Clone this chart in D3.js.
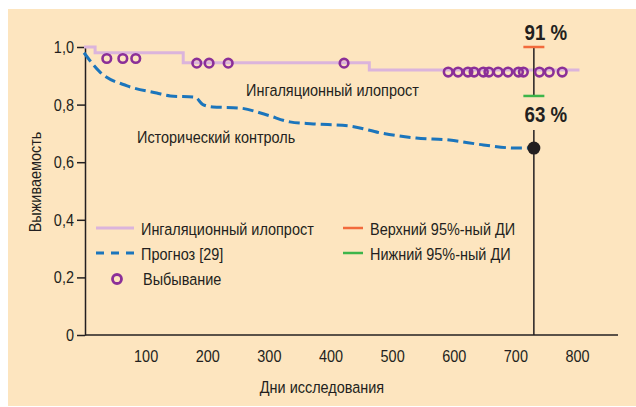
<!DOCTYPE html>
<meta charset="utf-8">
<style>
body { margin: 0; background: #fff; }
svg text {
  font-family: "Liberation Sans", Arial, sans-serif;
  fill: #231f20;
}
</style>
<svg width="636" height="407"></svg>
<script src="https://cdn.jsdelivr.net/npm/d3@7"></script>
<script>
// ilioprost Kaplan-Meier steps
var kmDays = [0, 18, 161, 463, 804];
var kmSurv = [1.0, 0.98, 0.945, 0.92, 0.92];

// drop-outs (censored)
var censDays = [37, 63, 84, 183, 203, 234, 422, 591, 607, 623, 633, 648, 657, 672, 688, 705, 713, 739, 755, 776];
var censSurv = [0.96, 0.96, 0.96, 0.944, 0.944, 0.944, 0.944, 0.913, 0.913, 0.913, 0.913, 0.913, 0.913, 0.913, 0.913, 0.913, 0.913, 0.913, 0.913, 0.913];

// historical control (prognosis)
var histDays = [0, 26, 70, 118, 140, 180, 193, 209, 253, 297, 334, 372, 430, 485, 539, 593, 648, 701, 730];
var histSurv = [0.98, 0.913, 0.865, 0.84, 0.83, 0.826, 0.80, 0.792, 0.788, 0.764, 0.74, 0.733, 0.726, 0.70, 0.684, 0.677, 0.66, 0.649, 0.649];

var ciDay = 730, ciUpper = 1.0, ciLower = 0.83, ciLabels = ["91 %", "63 %"];
var xTicks = [100, 200, 300, 400, 500, 600, 700, 800];
var yTicks = [0, 0.2, 0.4, 0.6, 0.8, 1.0];

var SX = 0.85; // squeeze, the original type is condensed

var svg = d3.select("svg");
svg.append("rect").attr("x", 8).attr("y", 9).attr("width", 628).attr("height", 397).attr("fill", "#fde5bf");

var x = d3.scaleLinear().domain([0, 800]).range([84, 577]),
    y = d3.scaleLinear().domain([0, 1]).range([335, 47]);

function label(px, py, str, size, extra) {
  return svg.append("text")
      .attr("transform", "translate(" + px + "," + py + ")" + (extra || "") + " scale(" + SX + ",1)")
      .attr("dy", "0.35em").attr("font-size", size || 17).text(str);
}

// x axis
svg.append("line").attr("x1", 85).attr("x2", 618).attr("y1", y(0)).attr("y2", y(0))
    .attr("stroke", "#231f20").attr("stroke-width", 1.5);
var gx = svg.append("g").attr("transform", "translate(0," + y(0) + ")")
    .call(d3.axisBottom(x).tickValues(xTicks).tickSize(0).tickPadding(15).tickFormat(d3.format("d")));
gx.select(".domain").remove();
gx.selectAll("text").attr("font-size", 17).style("font-family", null).attr("transform", "scale(" + SX + ",1)");

// y axis
var gy = svg.append("g").attr("transform", "translate(85,0)")
    .call(d3.axisLeft(y).tickValues(yTicks).tickSize(8).tickSizeOuter(0).tickPadding(5)
      .tickFormat(function(d) { return d === 0 ? "0" : d3.format(".1f")(d).replace(".", ","); }));
gy.select(".domain").attr("stroke", "#231f20").attr("stroke-width", 1.5);
gy.selectAll("line").attr("stroke", "#231f20").attr("stroke-width", 1.5);
gy.selectAll("text").attr("font-size", 17).style("font-family", null).attr("transform", "scale(" + SX + ",1)");

label(35, 182, "Выживаемость", 17, " rotate(-90)").attr("text-anchor", "middle");
label(322, 387, "Дни исследования").attr("text-anchor", "middle");

// historical control curve
svg.append("path")
    .datum(histDays.map(function(d, i) { return [d, histSurv[i]]; }))
    .attr("fill", "none").attr("stroke", "#1b75bc").attr("stroke-width", 3)
    .attr("stroke-dasharray", "11,5")
    .attr("d", d3.line().x(function(d) { return x(d[0]); }).y(function(d) { return y(d[1]); }).curve(d3.curveMonotoneX));

// KM curve
svg.append("path")
    .datum(kmDays.map(function(d, i) { return [d, kmSurv[i]]; }))
    .attr("fill", "none").attr("stroke", "#dbb4dc").attr("stroke-width", 3)
    .attr("d", d3.line().x(function(d) { return x(d[0]); }).y(function(d) { return y(d[1]); }).curve(d3.curveStepAfter));

// CI line
svg.append("line").attr("x1", x(ciDay)).attr("x2", x(ciDay)).attr("y1", y(ciUpper)).attr("y2", y(ciLower))
    .attr("stroke", "#231f20").attr("stroke-width", 1.5);
svg.append("line").attr("x1", x(ciDay)).attr("x2", x(ciDay)).attr("y1", y(ciLower) + 34).attr("y2", y(0))
    .attr("stroke", "#231f20").attr("stroke-width", 1.5);

// censor circles
svg.append("g").selectAll("circle").data(censDays).join("circle")
    .attr("cx", function(d) { return x(d); })
    .attr("cy", function(d, i) { return y(censSurv[i]); })
    .attr("r", 4.3).attr("fill", "none").attr("stroke", "#8b2f98").attr("stroke-width", 2.6);

svg.append("line").attr("x1", x(ciDay) - 10.5).attr("x2", x(ciDay) + 10.5).attr("y1", y(ciUpper)).attr("y2", y(ciUpper))
    .attr("stroke", "#f26a3c").attr("stroke-width", 2.5);
svg.append("line").attr("x1", x(ciDay) - 10.5).attr("x2", x(ciDay) + 10.5).attr("y1", y(ciLower)).attr("y2", y(ciLower))
    .attr("stroke", "#3db54a").attr("stroke-width", 2.5);
svg.append("circle").attr("cx", x(ciDay)).attr("cy", y(histSurv[histSurv.length - 1])).attr("r", 6.5).attr("fill", "#231f20");

label(x(ciDay) + 12, y(ciUpper) - 15, ciLabels[0], 22).attr("text-anchor", "middle").attr("font-weight", "bold");
label(x(ciDay) + 12, y(ciLower) + 18, ciLabels[1], 22).attr("text-anchor", "middle").attr("font-weight", "bold");

// annotations
label(x(263), y(0.85), "Ингаляционный илопрост");
label(x(86), y(0.6875), "Исторический контроль");

// legend
svg.append("line").attr("x1", 96).attr("x2", 134).attr("y1", 228).attr("y2", 228).attr("stroke", "#dbb4dc").attr("stroke-width", 3);
svg.append("line").attr("x1", 96).attr("x2", 134).attr("y1", 253).attr("y2", 253).attr("stroke", "#1b75bc").attr("stroke-width", 3).attr("stroke-dasharray", "8,7");
svg.append("circle").attr("cx", 117).attr("cy", 279).attr("r", 4.5).attr("fill", "none").attr("stroke", "#8b2f98").attr("stroke-width", 2.8);
label(141, 229, "Ингаляционный илопрост");
label(141, 254, "Прогноз [29]");
label(143, 279, "Выбывание");
svg.append("line").attr("x1", 343).attr("x2", 363).attr("y1", 228).attr("y2", 228).attr("stroke", "#f26a3c").attr("stroke-width", 2.5);
svg.append("line").attr("x1", 343).attr("x2", 363).attr("y1", 253).attr("y2", 253).attr("stroke", "#3db54a").attr("stroke-width", 2.5);
label(370, 229, "Верхний 95%-ный ДИ");
label(370, 254, "Нижний 95%-ный ДИ");
</script>
